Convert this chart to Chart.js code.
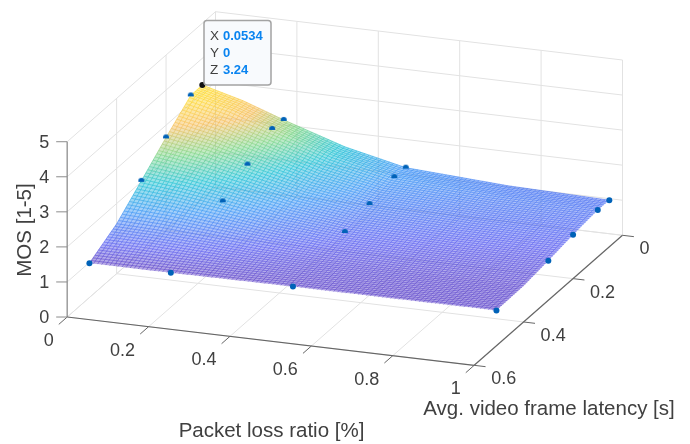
<!DOCTYPE html>
<html>
<head>
<meta charset="utf-8">
<title>MOS surface</title>
<script src="https://cdn.jsdelivr.net/npm/chart.js@4"></script>
<style>
  html, body { margin: 0; padding: 0; background: #fff; }
  #chart { display: block; }
</style>
</head>
<body>
<canvas id="chart" width="690" height="444"></canvas>
<script>
// Measured points
const lossRatio = [0, 0.2, 0.5, 1];
const latency = [0.0534, 0.1, 0.2, 0.3, 0.51];
const mosRows = [
  [3.24, 2.52, 1.57, 1.33],
  [3.23, 2.55, 1.59, 1.34],
  [2.65, 2.15, 1.44, 1.25],
  [2.03, 1.72, 1.26, 1.13],
  [0.98, 0.98, 1.00, 1.01]
];

// Fitted surface
const surfLoss = [0, 0.1, 0.2, 0.35, 0.5, 0.75, 1];
const surfLatency = [0.0534, 0.1, 0.2, 0.3, 0.4, 0.51];
const surfMos = [
  [3.24, 2.93, 2.52, 1.96, 1.57, 1.40, 1.33],
  [3.23, 2.94, 2.55, 1.98, 1.59, 1.42, 1.34],
  [2.65, 2.44, 2.15, 1.72, 1.44, 1.31, 1.25],
  [2.03, 1.90, 1.72, 1.44, 1.26, 1.17, 1.13],
  [1.42, 1.38, 1.30, 1.18, 1.10, 1.05, 1.03],
  [0.98, 0.98, 0.98, 0.99, 1.00, 1.00, 1.01]
];

// Axis ticks
const lossTicks = [0, 0.2, 0.4, 0.6, 0.8, 1];
const latencyTicks = [0, 0.2, 0.4, 0.6];
const mosTicks = [0, 1, 2, 3, 4, 5];

// Colormap stops for the surface
const colorStops = [
  [0.98, 90, 60, 195],
  [1.2, 85, 90, 240],
  [1.6, 50, 145, 245],
  [2.0, 20, 190, 210],
  [2.4, 115, 210, 125],
  [2.8, 245, 185, 80],
  [3.24, 255, 220, 30]
];

const FONT = '"Liberation Sans", Arial, sans-serif';
const TEXT_COLOR = "#404040";
const GRID_COLOR = "#e2e2e2";
const MARKER_COLOR = "#0062b8";
const MESH_X = 100;
const MESH_Y = 62;

// Orthographic view of the 3D box, in canvas units
function project(loss, lat, mos) {
  return {
    x: 215.5 + 407 * loss - 247.2 * lat,
    y: 187 + 48.3 * loss + 216.7 * lat - 35.06 * mos
  };
}

function findCell(knots, v) {
  let i = 0;
  while (i < knots.length - 2 && v > knots[i + 1]) i++;
  return [i, (v - knots[i]) / (knots[i + 1] - knots[i])];
}

function surfaceAt(loss, lat) {
  const [i, s] = findCell(surfLoss, loss);
  const [j, t] = findCell(surfLatency, lat);
  const top = surfMos[j][i] * (1 - s) + surfMos[j][i + 1] * s;
  const bottom = surfMos[j + 1][i] * (1 - s) + surfMos[j + 1][i + 1] * s;
  return top * (1 - t) + bottom * t;
}

function colorFor(z, alpha) {
  let k = 0;
  while (k < colorStops.length - 2 && z > colorStops[k + 1][0]) k++;
  const a = colorStops[k];
  const b = colorStops[k + 1];
  const f = Math.min(1, Math.max(0, (z - a[0]) / (b[0] - a[0])));
  const c = [1, 2, 3].map(n => Math.round(a[n] + (b[n] - a[n]) * f));
  return `rgba(${c[0]},${c[1]},${c[2]},${alpha})`;
}

// Points sunk in the surface only show their top part
function makeCapMarker() {
  const cv = document.createElement("canvas");
  cv.width = 8;
  cv.height = 8;
  const c = cv.getContext("2d");
  c.beginPath();
  c.rect(0, 0, 8, 5);
  c.clip();
  c.fillStyle = MARKER_COLOR;
  c.beginPath();
  c.arc(4, 4, 3, 0, Math.PI * 2);
  c.fill();
  return cv;
}
const capMarker = makeCapMarker();

// Points for the scatter datasets
const blackPoint = [project(lossRatio[0], latency[0], mosRows[0][0])];
const bluePoints = [];
const blueStyles = [];
latency.forEach((lat, j) => {
  lossRatio.forEach((loss, i) => {
    if (i === 0 && j === 0) return;
    bluePoints.push(project(loss, lat, mosRows[j][i]));
    blueStyles.push(j < 4 && i < 3 ? capMarker : "circle");
  });
});

function line3d(ctx, chart, a, b, color, width) {
  const p = project(a[0], a[1], a[2]);
  const q = project(b[0], b[1], b[2]);
  ctx.strokeStyle = color;
  ctx.lineWidth = width;
  ctx.beginPath();
  ctx.moveTo(chart.scales.x.getPixelForValue(p.x), chart.scales.y.getPixelForValue(p.y));
  ctx.lineTo(chart.scales.x.getPixelForValue(q.x), chart.scales.y.getPixelForValue(q.y));
  ctx.stroke();
}

function drawGrid(ctx, chart) {
  // Back wall, left wall and floor
  lossTicks.forEach(v => {
    line3d(ctx, chart, [v, 0, 0], [v, 0, 5], GRID_COLOR, 1);
    line3d(ctx, chart, [v, 0, 0], [v, 0.6, 0], GRID_COLOR, 1);
  });
  latencyTicks.forEach(v => {
    line3d(ctx, chart, [0, v, 0], [0, v, 5], GRID_COLOR, 1);
    line3d(ctx, chart, [0, v, 0], [1, v, 0], GRID_COLOR, 1);
  });
  mosTicks.forEach(v => {
    line3d(ctx, chart, [0, 0, v], [1, 0, v], GRID_COLOR, 1);
    line3d(ctx, chart, [0, 0, v], [0, 0.6, v], GRID_COLOR, 1);
  });
}

function drawSurface(ctx, chart) {
  const sx = chart.scales.x;
  const sy = chart.scales.y;
  const xMin = surfLoss[0];
  const xMax = surfLoss[surfLoss.length - 1];
  const yMin = surfLatency[0];
  const yMax = surfLatency[surfLatency.length - 1];
  const node = (i, j) => {
    const loss = xMin + (xMax - xMin) * i / MESH_X;
    const lat = yMin + (yMax - yMin) * j / MESH_Y;
    const z = surfaceAt(loss, lat);
    const p = project(loss, lat, z);
    return { x: sx.getPixelForValue(p.x), y: sy.getPixelForValue(p.y), z: z };
  };
  for (let j = 0; j < MESH_Y; j++) {
    for (let i = 0; i < MESH_X; i++) {
      const a = node(i, j);
      const b = node(i + 1, j);
      const c = node(i + 1, j + 1);
      const d = node(i, j + 1);
      ctx.fillStyle = colorFor((a.z + b.z + c.z + d.z) / 4, 0.45);
      ctx.beginPath();
      ctx.moveTo(a.x, a.y);
      ctx.lineTo(b.x, b.y);
      ctx.lineTo(c.x, c.y);
      ctx.lineTo(d.x, d.y);
      ctx.closePath();
      ctx.fill();
      ctx.strokeStyle = colorFor(a.z, 0.75);
      ctx.lineWidth = 0.8;
      ctx.beginPath();
      ctx.moveTo(d.x, d.y);
      ctx.lineTo(a.x, a.y);
      ctx.lineTo(b.x, b.y);
      ctx.stroke();
    }
  }
}

function drawAxes(ctx, chart) {
  const sx = chart.scales.x;
  const sy = chart.scales.y;
  line3d(ctx, chart, [0, 0.6, 0], [0, 0.6, 5], "#8c8c8c", 1.2);
  line3d(ctx, chart, [0, 0.6, 0], [1, 0.6, 0], "#666666", 1.2);
  line3d(ctx, chart, [1, 0.6, 0], [1, 0, 0], "#666666", 1.2);
  lossTicks.forEach(v => line3d(ctx, chart, [v, 0.6, 0], [v, 0.634, 0], "#666666", 1));
  latencyTicks.forEach(v => line3d(ctx, chart, [1, v, 0], [1.028, v, 0], "#666666", 1));
  mosTicks.forEach(v => {
    const p = project(0, 0.6, v);
    ctx.strokeStyle = "#8c8c8c";
    ctx.lineWidth = 1;
    ctx.beginPath();
    ctx.moveTo(sx.getPixelForValue(p.x), sy.getPixelForValue(p.y));
    ctx.lineTo(sx.getPixelForValue(p.x - 11), sy.getPixelForValue(p.y));
    ctx.stroke();
  });

  ctx.fillStyle = TEXT_COLOR;
  ctx.textBaseline = "middle";
  ctx.font = "18px " + FONT;
  ctx.textAlign = "right";
  lossTicks.forEach(v => {
    const p = project(v, 0.6, 0);
    ctx.fillText(String(v), sx.getPixelForValue(p.x - 13.5), sy.getPixelForValue(p.y + 24));
  });
  mosTicks.forEach(v => {
    const p = project(0, 0.6, v);
    ctx.fillText(String(v), sx.getPixelForValue(p.x - 18), sy.getPixelForValue(p.y + 1));
  });
  ctx.textAlign = "left";
  latencyTicks.forEach(v => {
    const p = project(1, v, 0);
    ctx.fillText(String(v), sx.getPixelForValue(p.x + 17), sy.getPixelForValue(p.y + 14));
  });

  ctx.textAlign = "center";
  ctx.font = "20.5px " + FONT;
  ctx.fillText("Packet loss ratio [%]", sx.getPixelForValue(271.5), sy.getPixelForValue(431));
  ctx.fillText("Avg. video frame latency [s]", sx.getPixelForValue(549), sy.getPixelForValue(409));
  ctx.save();
  ctx.translate(sx.getPixelForValue(25), sy.getPixelForValue(230));
  ctx.rotate(-Math.PI / 2);
  ctx.fillText("MOS [1-5]", 0, 0);
  ctx.restore();
}

function drawDataTip(ctx) {
  const rows = [["X", "0.0534", 36], ["Y", "0", 53], ["Z", "3.24", 70.5]];
  ctx.fillStyle = "#f8fafd";
  ctx.strokeStyle = "#a3a3a3";
  ctx.lineWidth = 1.5;
  ctx.beginPath();
  ctx.roundRect(204, 20.5, 67, 64.5, 3);
  ctx.fill();
  ctx.stroke();
  ctx.textBaseline = "middle";
  ctx.textAlign = "left";
  rows.forEach(r => {
    ctx.fillStyle = TEXT_COLOR;
    ctx.font = "13.5px " + FONT;
    ctx.fillText(r[0], 210, r[2]);
    ctx.fillStyle = "#0a84f0";
    ctx.font = "bold 13px " + FONT;
    ctx.fillText(r[1], 223, r[2]);
  });
}

const surfacePlugin = {
  id: "surface3d",
  beforeDatasetsDraw(chart) {
    const ctx = chart.ctx;
    ctx.save();
    drawGrid(ctx, chart);
    drawAxes(ctx, chart);
    drawSurface(ctx, chart);
    ctx.restore();
  },
  afterDatasetsDraw(chart) {
    const ctx = chart.ctx;
    ctx.save();
    drawDataTip(ctx);
    ctx.restore();
  }
};

new Chart(document.getElementById("chart"), {
  type: "scatter",
  data: {
    datasets: [
      { data: bluePoints, backgroundColor: MARKER_COLOR, borderWidth: 0, pointRadius: 3, pointStyle: blueStyles },
      { data: blackPoint, backgroundColor: "#111111", borderWidth: 0, pointRadius: 3 }
    ]
  },
  options: {
    responsive: false,
    animation: false,
    layout: { padding: 0, autoPadding: false },
    plugins: { legend: { display: false }, tooltip: { enabled: false } },
    scales: {
      x: { type: "linear", min: 0, max: 690, display: false },
      y: { type: "linear", min: 0, max: 444, reverse: true, display: false }
    }
  },
  plugins: [surfacePlugin]
});
</script>
</body>
</html>
